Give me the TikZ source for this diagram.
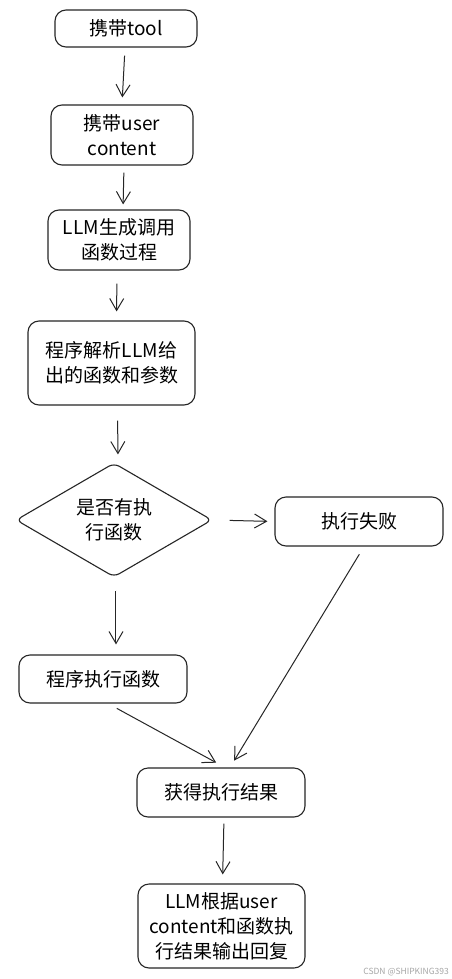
\documentclass[tikz,border=0pt]{standalone}
\usepackage{fontspec}
\setmainfont{Noto Sans CJK SC}
\usetikzlibrary{shapes.geometric,arrows.meta,calc}
\tikzset{
  box/.style={draw=black!85, line width=1.1pt, rounded corners=11pt, inner sep=0pt, align=center,
    font=\fontsize{19}{25}\selectfont},
  dec/.style={draw=black!85, line width=1.1pt, diamond, aspect=1.72, inner sep=0pt, align=center,
    minimum width=196pt, minimum height=114pt, rounded corners=6pt, font=\fontsize{19}{25}\selectfont},
  arr/.style={draw=black!85, line width=1pt, -{Straight Barb[length=12pt,width=14pt,line width=1pt]}},
}
\begin{document}
\begin{tikzpicture}[x=1pt,y=-1pt]
\useasboundingbox[fill=white] (0,0) rectangle (452,979);
\node[box, minimum width=142pt, minimum height=37pt] (b1) at (126,28.5) {携带tool};
\node[box, minimum width=142pt, minimum height=60pt] (b2) at (122,135) {携带user\\content};
\node[box, minimum width=142pt, minimum height=60pt] (b3) at (119,240) {LLM生成调用\\函数过程};
\node[box, minimum width=167pt, minimum height=84pt] (b4) at (111.5,363) {程序解析LLM给\\出的函数和参数};
\node[dec] (d) at (114,520) {是否有执\\行函数};
\node[box, minimum width=168pt, minimum height=49pt] (fail) at (359,521.5) {执行失败};
\node[box, minimum width=168pt, minimum height=48pt] (exec) at (103,679) {程序执行函数};
\node[box, minimum width=168pt, minimum height=49pt] (res) at (221,792.5) {获得执行结果};
\node[box, minimum width=167pt, minimum height=84pt] (fin) at (221.5,926) {LLM根据user\\content和函数执\\行结果输出回复};

\draw[arr, shorten <=8pt, shorten >=7pt] ([xshift=-1pt]b1.south) -- (b2.north);
\draw[arr, shorten <=7pt, shorten >=5pt] ([xshift=2pt]b2.south) -- ([xshift=4pt]b3.north);
\draw[arr, shorten <=13pt, shorten >=9pt] ([xshift=-2pt]b3.south) -- ([xshift=5pt]b4.north);
\draw[arr, shorten <=15pt, shorten >=8pt] ([xshift=6pt]b4.south) -- ([xshift=4pt]d.north);
\draw[arr, shorten <=17pt, shorten >=7pt] (d.east) -- (fail.west);
\draw[arr, shorten <=13pt, shorten >=10pt, double=white, double distance=1pt, line width=0.7pt] ([xshift=2pt]d.south) -- ([xshift=13pt]exec.north);
\draw[arr, shorten <=9pt, shorten >=8pt] ([xshift=5pt]fail.south) -- ([xshift=9pt]res.north);
\draw[arr, shorten <=10pt, shorten >=10pt] ([xshift=5pt]exec.south) -- ([xshift=4pt]res.north);
\draw[arr, shorten <=6pt, shorten >=9pt] ([xshift=3pt]res.south) -- ([xshift=1pt]fin.north);

\node[anchor=south east, inner sep=0pt, text=black!35, font=\fontsize{8.5}{10}\selectfont] (wm) at (449,976) {CSDN @SHIPKING393};
\end{tikzpicture}
\end{document}
